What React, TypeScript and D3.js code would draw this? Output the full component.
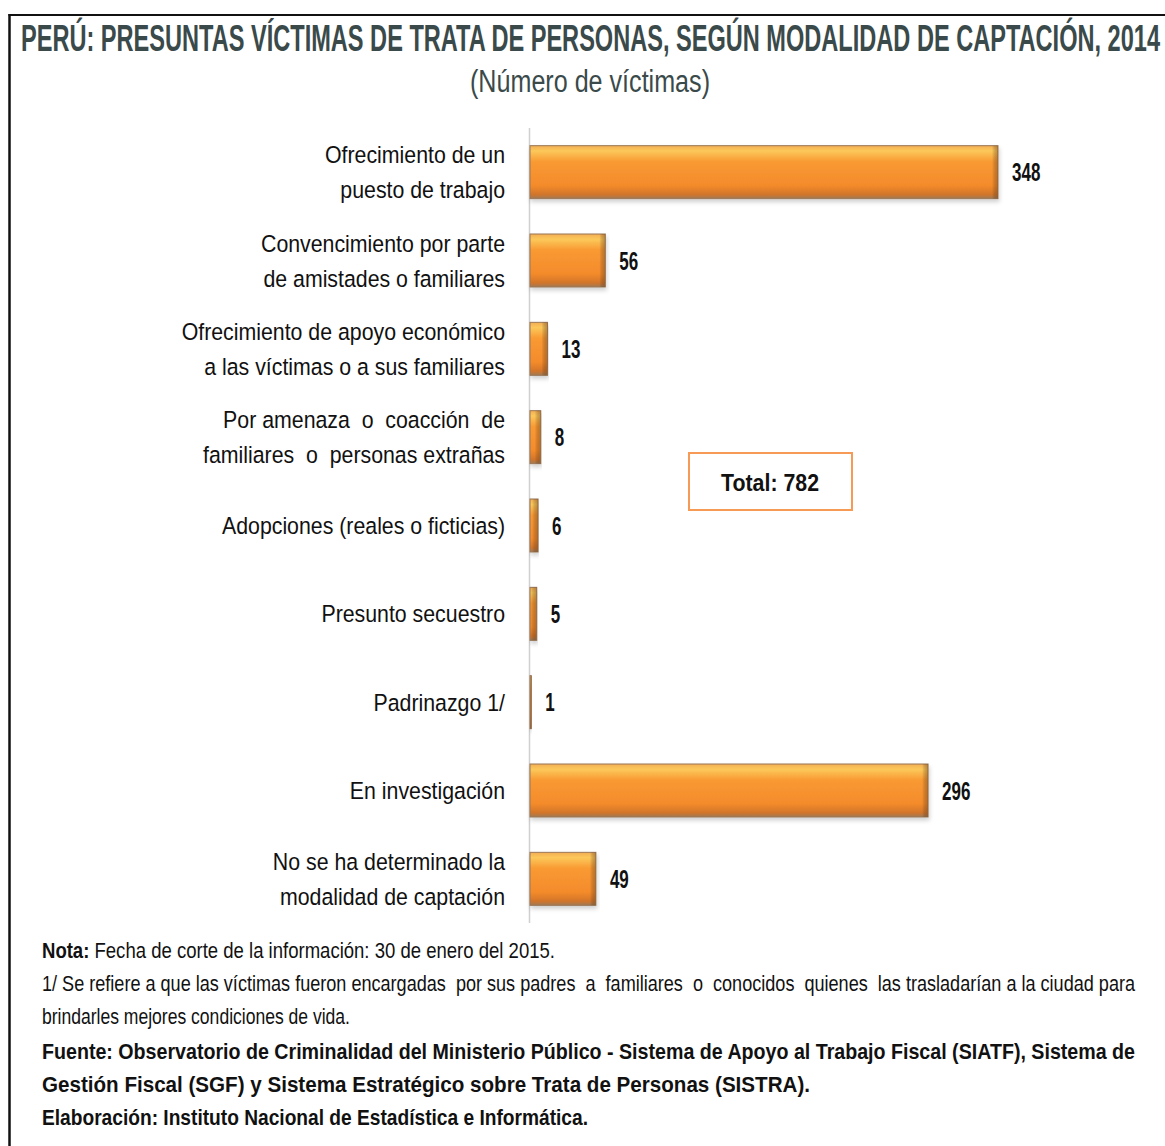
import React from "react";
import * as d3 from "d3";

const categories: string[][] = [
  ["Ofrecimiento de un", "puesto de trabajo"],
  ["Convencimiento por parte", "de amistades o familiares"],
  ["Ofrecimiento de apoyo económico", "a las víctimas o a sus familiares"],
  ["Por amenaza  o  coacción  de", "familiares  o  personas extrañas"],
  ["Adopciones (reales o ficticias)"],
  ["Presunto secuestro"],
  ["Padrinazgo 1/"],
  ["En investigación"],
  ["No se ha determinado la", "modalidad de captación"],
];
const values: number[] = [348, 56, 13, 8, 6, 5, 1, 296, 49];
const totalLabel = "Total: 782";
const title = "PERÚ: PRESUNTAS VÍCTIMAS DE TRATA DE PERSONAS, SEGÚN MODALIDAD DE CAPTACIÓN, 2014";
const subtitle = "(Número de víctimas)";

const W = 1165;
const H = 1146;
const sans = "'Liberation Sans', Arial, sans-serif";

type NTProps = {
  x: number; y: number; sx: number; size: number; anchor?: string; bold?: boolean;
  fill?: string; len?: number; children: React.ReactNode;
};
function NText({ x, y, sx, size, anchor = "start", bold = false, fill = "#111", len, children }: NTProps) {
  return (
    <text transform={`translate(${x},${y}) scale(${sx},1)`} x={0} y={0} textAnchor={anchor}
      fontFamily={sans} fontWeight={bold ? "bold" : "normal"} fontSize={size} fill={fill}
      textLength={len ? len / sx : undefined} lengthAdjust={len ? "spacingAndGlyphs" : undefined}
      style={{ whiteSpace: "pre" }}>
      {children}
    </text>
  );
}

export default function App() {
  const ids = categories.map((_, i) => String(i));
  const y = d3.scaleBand<string>().domain(ids).range([128, 923]).paddingInner(0.4).paddingOuter(0.2);
  const x = d3.scaleLinear().domain([0, 348]).range([530, 998]);

  return (
    <svg width={W} height={H} style={{ display: "block", position: "absolute", left: 0, top: 0 }}>
      <defs>
        <linearGradient id="barGrad" x1="0" y1="0" x2="0" y2="1">
          <stop offset="0" stopColor="#f3ae55" />
          <stop offset="0.1" stopColor="#fcc85a" />
          <stop offset="0.3" stopColor="#f99a33" />
          <stop offset="0.75" stopColor="#f48b2c" />
          <stop offset="0.92" stopColor="#d2752a" />
          <stop offset="1" stopColor="#a07a55" />
        </linearGradient>
        <linearGradient id="edgeGrad" x1="0" y1="0" x2="1" y2="0">
          <stop offset="0" stopColor="#000" stopOpacity="0" />
          <stop offset="1" stopColor="#7a4a20" stopOpacity="0.45" />
        </linearGradient>
        <filter id="shadow" x="-5%" y="-20%" width="110%" height="150%">
          <feDropShadow dx="1" dy="3" stdDeviation="2" floodColor="#000" floodOpacity="0.18" />
        </filter>
      </defs>
      <rect x={0} y={0} width={W} height={H} fill="#fff" />
      {/* frame */}
      <line x1={8.5} y1={15} x2={W} y2={15} stroke="#111" strokeWidth={2} />
      <line x1={9.5} y1={14} x2={9.5} y2={H} stroke="#111" strokeWidth={2.5} />

      <NText x={590.5} y={51} sx={0.6} size={37} anchor="middle" bold fill="#3a4a4a" len={1139}>{title}</NText>
      <NText x={590} y={92} sx={0.8} size={31} anchor="middle" fill="#3a4a4a" len={240}>{subtitle}</NText>

      {/* axis */}
      <line x1={529.5} x2={529.5} y1={y.range()[0]} y2={y.range()[1]} stroke="#d0d0d0" strokeWidth={1.5} />

      {values.map((v, i) => {
        const by = y(String(i))!;
        const bw = y.bandwidth();
        const w = x(v) - x(0);
        return (
          <g key={i}>
            <rect x={x(0)} y={by} width={w} height={bw} fill="url(#barGrad)" filter="url(#shadow)"
              stroke="#9a7755" strokeWidth={1} />
            <rect x={x(0) + Math.max(w - 6, 0)} y={by} width={Math.min(6, w)} height={bw} fill="url(#edgeGrad)" />
            <NText x={x(v) + 14} y={by + bw / 2 + 9} sx={0.68} size={25} bold>{String(v)}</NText>
            {categories[i].map((line, j) => {
              const n = categories[i].length;
              const cy = by + bw / 2 + (j - (n - 1) / 2) * 35;
              return (
                <NText key={j} x={505} y={cy + 8.5} sx={0.87} size={24.5} anchor="end">{line}</NText>
              );
            })}
          </g>
        );
      })}

      <rect x={689} y={453} width={163} height={57} fill="#fff" stroke="#f79a55" strokeWidth={2} />
      <NText x={770} y={491} sx={0.92} size={24} anchor="middle" bold len={98}>{totalLabel}</NText>

      <NText x={42} y={958} sx={0.66} size={22.5} len={513}>
        <tspan fontWeight="bold">Nota:</tspan> Fecha de corte de la información: 30 de enero del 2015.
      </NText>
      <NText x={42} y={991} sx={0.66} size={22.5} len={1093}>1/ Se refiere a que las víctimas fueron encargadas  por sus padres  a  familiares  o  conocidos  quienes  las trasladarían a la ciudad para</NText>
      <NText x={42} y={1024} sx={0.66} size={22.5} len={308}>brindarles mejores condiciones de vida.</NText>
      <NText x={42} y={1059} sx={0.66} size={22.5} bold len={1093}>Fuente: Observatorio de Criminalidad del Ministerio Público - Sistema de Apoyo al Trabajo Fiscal (SIATF), Sistema de</NText>
      <NText x={42} y={1092} sx={0.66} size={22.5} bold len={768}>Gestión Fiscal (SGF) y Sistema Estratégico sobre Trata de Personas (SISTRA).</NText>
      <NText x={42} y={1125} sx={0.66} size={22.5} bold len={546}>Elaboración: Instituto Nacional de Estadística e Informática.</NText>
    </svg>
  );
}
